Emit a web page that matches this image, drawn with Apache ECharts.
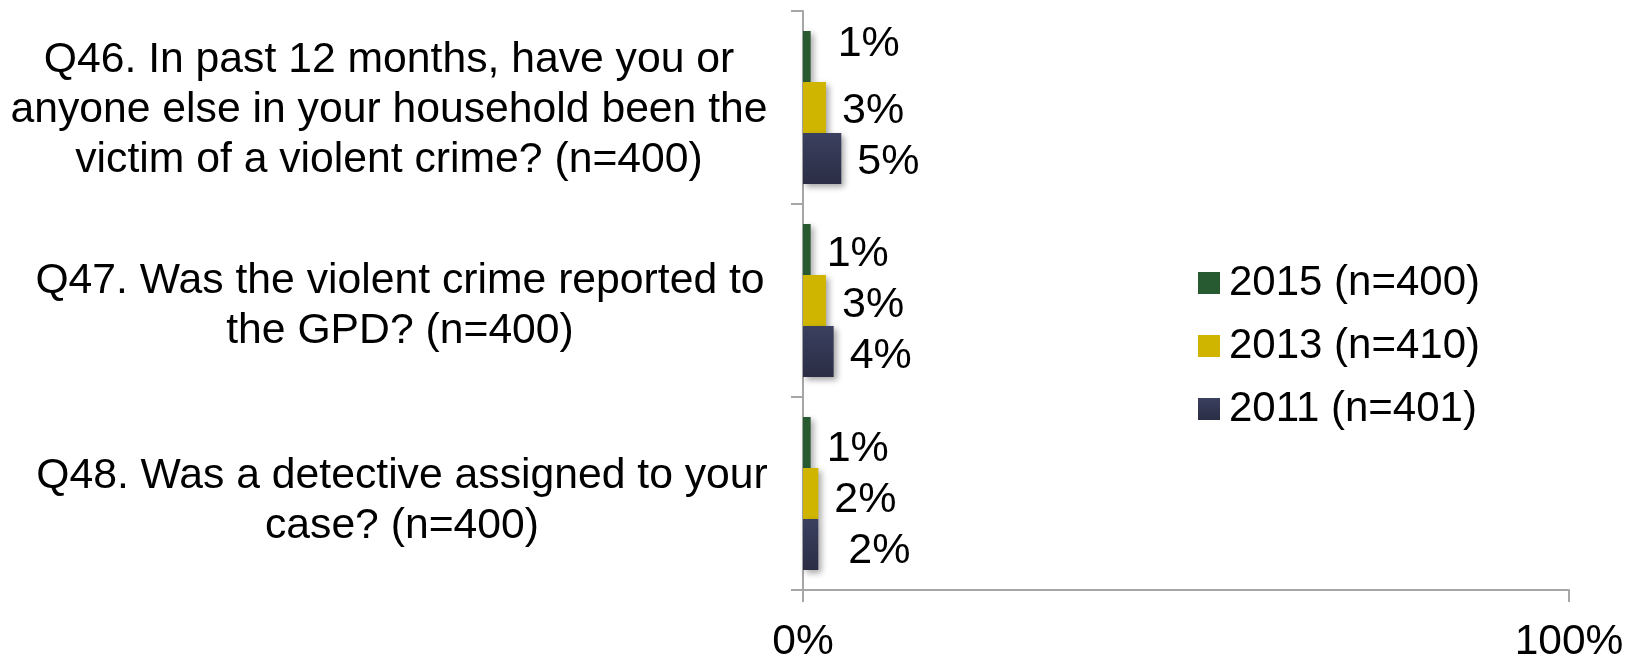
<!DOCTYPE html>
<html>
<head>
<meta charset="utf-8">
<script src="https://cdn.jsdelivr.net/npm/echarts@6/dist/echarts.min.js"></script>
<style>
html,body{margin:0;padding:0;background:#fff;}
#chart{width:1627px;height:664px;}
</style>
</head>
<body>
<div id="chart"></div>
<script>
const categories = [
  "Q46. In past 12 months, have you or\nanyone else in your household been the\nvictim of a violent crime? (n=400)",
  "Q47. Was the violent crime reported to\nthe GPD? (n=400)",
  "Q48. Was a detective assigned to your\ncase? (n=400)"
];
const seriesNames = ["2015 (n=400)", "2013 (n=410)", "2011 (n=401)"];
const values2015 = [1, 1, 1];
const values2013 = [3, 3, 2];
const values2011 = [5, 4, 2];
const xMin = 0, xMax = 100, xInterval = 100;

// styling (kept apart from the data)
const FONT = "'Liberation Sans', Arial, sans-serif";
const colors = [
  '#285a32',
  '#cfb500',
  new echarts.graphic.LinearGradient(0, 0, 0, 1, [
    {offset: 0, color: '#3b4060'},
    {offset: 1, color: '#2a2d44'}
  ])
];
const labelWidths = [754, 732, 728];
const labelSpacer = [6, 12, 16];
const labelOffsets = [
  [[11, -12], [0, 4], [0, 4]],
  [[0, 5], [0, 5], [0, 5]],
  [[0, 7], [0, 7], [14, 7]]
];
const seriesValues = [values2015, values2013, values2011];

const rich = {};
labelWidths.forEach((w, i) => {
  rich['q' + i] = {width: w, align: 'center', fontSize: 42.7, lineHeight: 50,
                   color: '#000', fontFamily: FONT};
  rich['s' + i] = {fontSize: 1, lineHeight: labelSpacer[i], height: labelSpacer[i], color: 'rgba(0,0,0,0)'};
});

const series = seriesNames.map((name, s) => ({
  name: name,
  type: 'bar',
  barWidth: 51,
  barGap: '0%',
  itemStyle: {
    color: colors[s],
    shadowColor: 'rgba(0,0,0,0.35)',
    shadowBlur: 6,
    shadowOffsetX: 3,
    shadowOffsetY: 3
  },
  label: {
    show: true,
    position: 'right',
    distance: 16,
    formatter: '{c}%',
    fontSize: 43,
    fontFamily: FONT,
    color: '#000'
  },
  data: seriesValues[s].map((v, i) => ({
    value: v,
    label: {offset: labelOffsets[i][s]}
  }))
}));

const chart = echarts.init(document.getElementById('chart'));
chart.setOption({
  animation: false,
  textStyle: {fontFamily: FONT},
  grid: {left: 803, right: 58, top: 11, bottom: 70, containLabel: false},
  legend: {
    orient: 'vertical',
    left: 1198,
    top: 262,
    padding: 0,
    itemWidth: 22,
    itemHeight: 22,
    itemGap: 21,
    icon: 'rect',
    data: seriesNames,
    textStyle: {fontSize: 42, lineHeight: 42, color: '#000', fontFamily: FONT, padding: [0, 0, 0, 4]}
  },
  xAxis: {
    type: 'value',
    min: xMin,
    max: xMax,
    interval: xInterval,
    axisLine: {show: true, lineStyle: {color: '#a6a6a6', width: 2}},
    axisTick: {show: true, length: 12, lineStyle: {color: '#a6a6a6', width: 2}},
    splitLine: {show: false},
    axisLabel: {formatter: '{value}%', fontSize: 42.5, color: '#000', margin: 31, fontFamily: FONT}
  },
  yAxis: {
    type: 'category',
    inverse: true,
    data: categories,
    axisLine: {show: true, lineStyle: {color: '#a6a6a6', width: 2}},
    axisTick: {show: true, length: 12, lineStyle: {color: '#a6a6a6', width: 2}},
    axisLabel: {
      margin: 37,
      align: 'right',
      formatter: (v, i) => '{s' + i + '| }\n' + v.split('\n').map(l => '{q' + i + '|' + l + '}').join('\n'),
      rich: rich
    }
  },
  series: series
});
</script>
</body>
</html>
